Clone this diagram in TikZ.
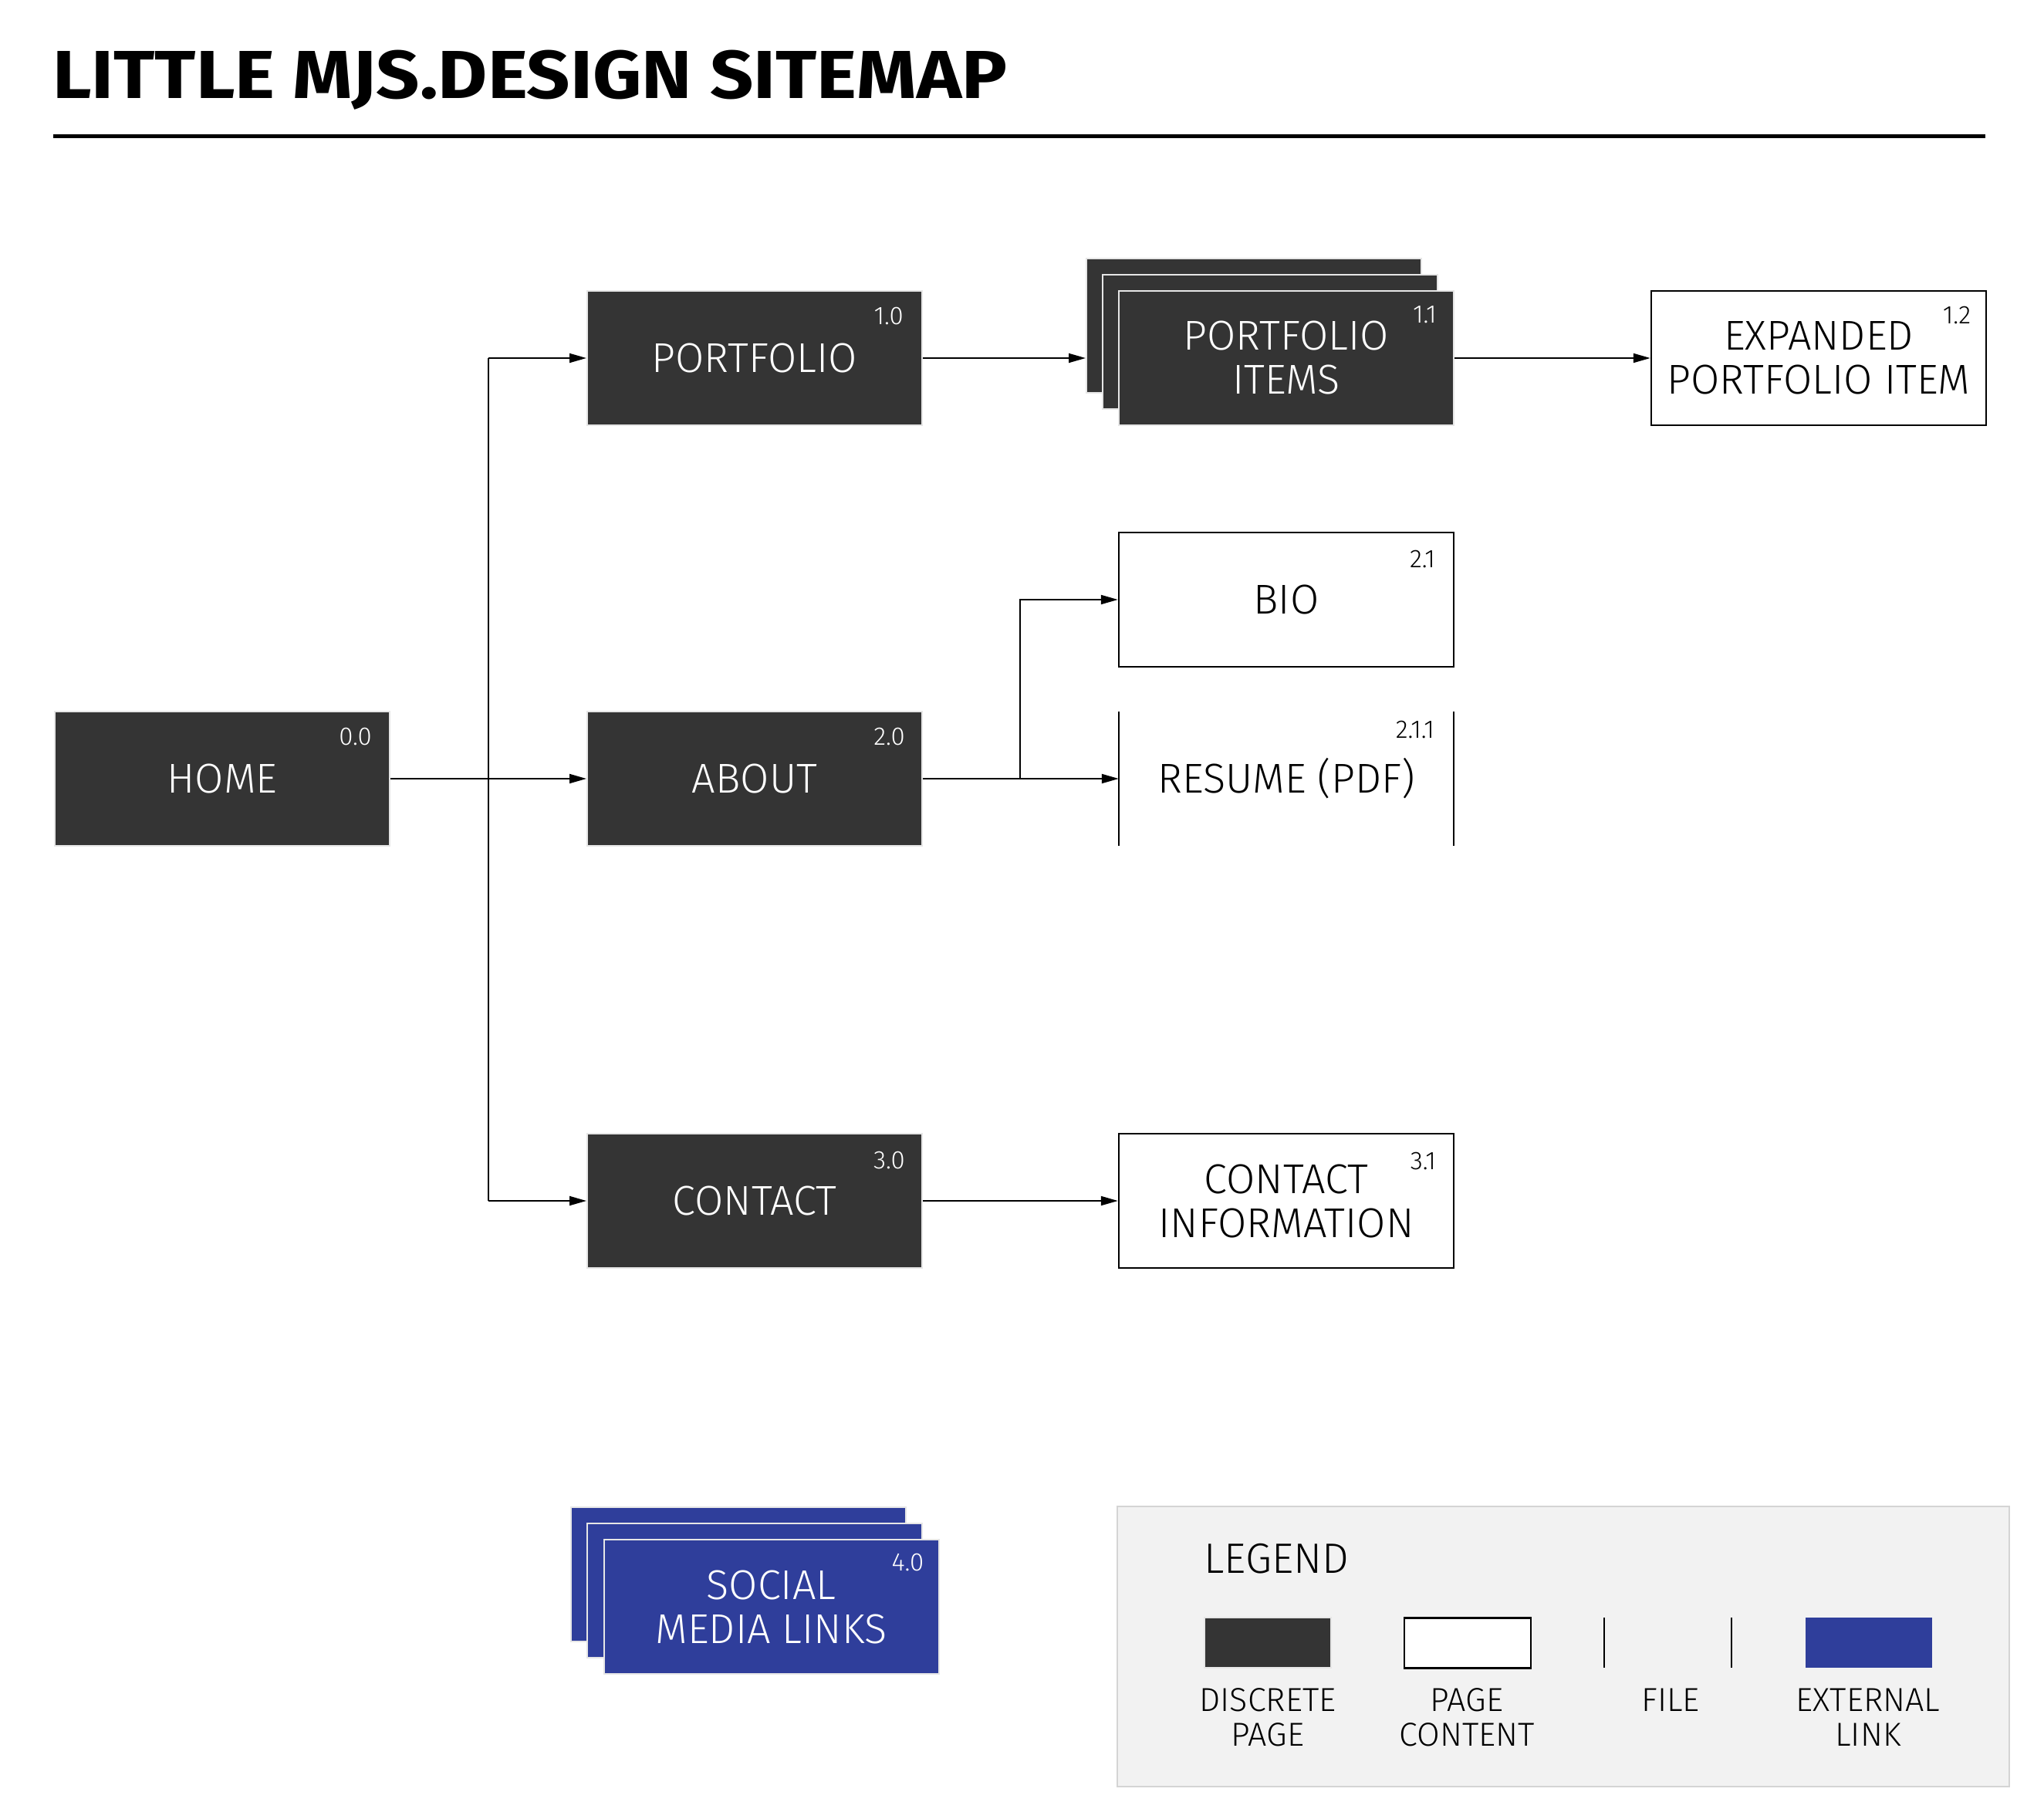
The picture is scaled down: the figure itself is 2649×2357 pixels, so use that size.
\documentclass[tikz,border=0pt]{standalone}
\usepackage{fontspec}
\usetikzlibrary{arrows.meta}
\IfFontExistsTF{Fira Sans Light}{\setmainfont{Fira Sans Light}}{\setmainfont{Fira Sans}}
\newfontfamily\mytitlefont{Fira Sans}
\newcommand\mylabfont{\fontsize{54}{57}\selectfont}
\newcommand\mynumfont{\fontsize{33}{36}\selectfont}
\newcommand\myleghead{\fontsize{55}{58}\selectfont}
\newcommand\myleglab{\fontsize{43}{45}\selectfont}
\definecolor{dark}{HTML}{343434}
\definecolor{extblue}{HTML}{2F3E9B}
\definecolor{legfill}{HTML}{F2F2F2}
\definecolor{legdraw}{HTML}{D4D4D4}
\definecolor{sheetedge}{HTML}{E6E6E6}
\tikzset{
  x=1pt, y=-1pt,
  boxbase/.style={minimum width=434pt, minimum height=174pt, inner sep=0pt, align=center, font=\mylabfont},
  page/.style={boxbase, fill=dark, draw=sheetedge, line width=2pt, text=white},
  content/.style={boxbase, fill=white, draw=black, line width=2.5pt, text=black},
  filebox/.style={boxbase, text=black},
  extpage/.style={boxbase, fill=extblue, draw=sheetedge, line width=2pt, text=white},
  num/.style={font=\mynumfont, anchor=base east, inner sep=0pt},
  arr/.style={-{Triangle[length=22pt,width=12pt]}, line width=2pt},
  link/.style={line width=2pt},
  swatch/.style={minimum width=164pt, minimum height=65pt, inner sep=0pt},
  leglab/.style={font=\myleglab, anchor=base, inner sep=0pt}
}
\begin{document}
\begin{tikzpicture}
\useasboundingbox (0,0) rectangle (2649,2357);
% title
\node[anchor=base west, inner sep=0pt, font=\mytitlefont\bfseries\fontsize{88}{96}\selectfont] (title) at (68,128) {\scalebox{1.12}[1]{LITTLE MJS.DESIGN SITEMAP}};
\draw[line width=5pt] (69,177) -- (2573,177);

% level 0 and 1
\node[page] (home) at (288,1009) {HOME};
\node[page] (portfolio) at (978,464) {PORTFOLIO};
\node[page] (about) at (978,1009) {ABOUT};
\node[page] (contact) at (978,1556) {CONTACT};

% portfolio items stack
\node[page] (itemsback) at (1625,422) {};
\node[page] (itemsmid) at (1646,443) {};
\node[page] (items) at (1667,464) {PORTFOLIO\\ITEMS};
\node[content] (expanded) at (2357,464) {EXPANDED\\PORTFOLIO ITEM};

% about children
\node[content] (bio) at (1667,777) {BIO};
\node[filebox] (resume) at (1667,1009) {RESUME (PDF)};
\draw[link] (resume.north west) -- (resume.south west);
\draw[link] (resume.north east) -- (resume.south east);

% contact child
\node[content] (contactinfo) at (1667,1556) {CONTACT\\INFORMATION};

% social stack
\node[extpage] (socialback) at (957,2040) {};
\node[extpage] (socialmid) at (978,2061) {};
\node[extpage] (social) at (999.5,2082) {SOCIAL\\MEDIA LINKS};

% numbers
\node[num, text=white] at ([shift={(-24,44)}]home.north east) {0.0};
\node[num, text=white] at ([shift={(-25,44)}]portfolio.north east) {1.0};
\node[num, text=white] at ([shift={(-23,44)}]about.north east) {2.0};
\node[num, text=white] at ([shift={(-23,46)}]contact.north east) {3.0};
\node[num, text=white] at ([shift={(-23,42)}]items.north east) {1.1};
\node[num] at ([shift={(-21,44)}]expanded.north east) {1.2};
\node[num] at ([shift={(-25,47)}]bio.north east) {2.1};
\node[num] at ([shift={(-25,35)}]resume.north east) {2.1.1};
\node[num] at ([shift={(-24,48)}]contactinfo.north east) {3.1};
\node[num, text=white] at ([shift={(-20,41)}]social.north east) {4.0};

% connectors
\coordinate (trunk) at (633,0);
\coordinate (branch) at (1322,0);
\draw[link] (trunk |- portfolio.west) -- (trunk |- contact.west);
\draw[arr] (trunk |- portfolio.west) -- (portfolio.west);
\draw[arr] (home.east) -- (about.west);
\draw[arr] (trunk |- contact.west) -- (contact.west);
\draw[arr] (portfolio.east) -- (portfolio.east -| itemsback.west);
\draw[arr] (items.east) -- (expanded.west);
\draw[arr] (about.east) -- (resume.west);
\draw[arr] (branch |- about.east) |- (bio.west);
\draw[arr] (contact.east) -- (contactinfo.west);

% legend
\node[fill=legfill, draw=legdraw, line width=2.5pt, minimum width=1156pt, minimum height=363pt, inner sep=0pt] (legend) at (2026,2133.5) {};
\node[font=\myleghead, anchor=base west, inner sep=0pt] (legendtitle) at (1560,2038) {LEGEND};
\node[swatch, fill=dark, draw=sheetedge, line width=1.5pt] (swdark) at (1643,2128.5) {};
\node[swatch, fill=white, draw=black, line width=2.5pt] (swwhite) at (1902,2129) {};
\node[swatch] (swfile) at (2161.5,2128.5) {};
\draw[line width=2pt] (swfile.north west) -- (swfile.south west);
\draw[line width=2pt] (swfile.north east) -- (swfile.south east);
\node[swatch, fill=extblue] (swblue) at (2421.5,2128.5) {};
\node[leglab] at (1643,2217) {DISCRETE};
\node[leglab] at (1643,2262) {PAGE};
\node[leglab] at (1901,2217) {PAGE};
\node[leglab] at (1901,2262) {CONTENT};
\node[leglab] at (2165,2217) {FILE};
\node[leglab] at (2421,2217) {EXTERNAL};
\node[leglab] at (2421,2262) {LINK};
\end{tikzpicture}
\end{document}
